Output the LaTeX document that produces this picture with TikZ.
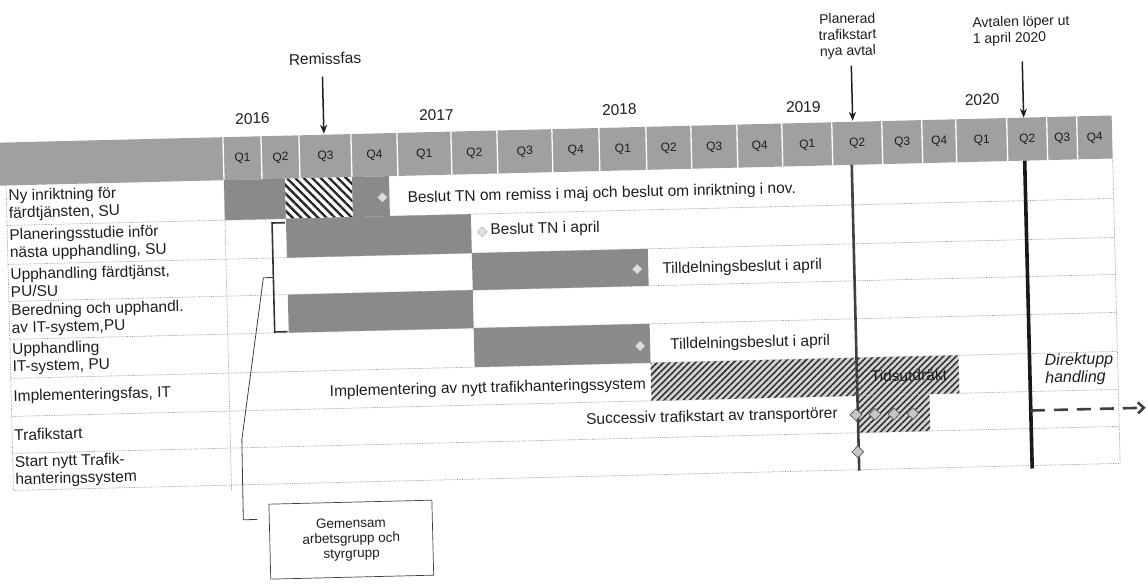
\documentclass[tikz,border=0pt]{standalone}
\usepackage{fontspec}
\setmainfont{Liberation Sans}
\usetikzlibrary{shapes.geometric,patterns.meta,arrows.meta}
\definecolor{hdr}{HTML}{A0A0A0}
\definecolor{barc}{HTML}{8A8A8A}
\definecolor{hatchbg}{HTML}{D4D4D4}
\definecolor{gridc}{HTML}{909090}
\definecolor{ink}{HTML}{1E1E1E}
\begin{document}
\begin{tikzpicture}[x=1pt,y=-1pt,
  every node/.style={text=ink},
  lbl/.style={anchor=west,align=left,inner sep=0pt,font=\fontsize{15.5}{17.5}\selectfont},
  txt/.style={inner sep=0pt,font=\fontsize{15.5}{16}\selectfont},
  qlab/.style={inner sep=0pt,font=\fontsize{12}{12}\selectfont},
  yr/.style={inner sep=0pt,font=\fontsize{15.5}{16}\selectfont},
  ann/.style={inner sep=0pt,font=\fontsize{14}{16}\selectfont},
  darkbar/.style={fill=barc},
  hatchA/.style={preaction={fill=white},pattern={Lines[angle=-45,distance=6pt,line width=2.4pt]},pattern color=black!85},
  hatchB/.style={preaction={fill=hatchbg},pattern={Lines[angle=45,distance=4.5pt,line width=1.6pt]},pattern color=black!80},
  ms/.style={diamond,minimum size=12pt,inner sep=0pt,fill=gray!45,draw=black!70,line width=0.6pt},
  msl/.style={diamond,minimum size=10pt,inner sep=0pt,fill=gray!25,draw=gray!60,line width=0.5pt},
  gridline/.style={draw=gridc,line width=0.7pt,densely dotted},
  arr/.style={draw=ink,line width=1.5pt,-{Stealth[length=9pt,width=7pt]}},
  conn/.style={draw=black!75,line width=0.8pt},
]
\useasboundingbox (0,0) rectangle (1148,587);
\begin{scope}[rotate around={1.4:(560,300)},transform shape]
% header band
\fill[hdr] (2,129) rectangle (1116,172);
\foreach \x in {227,265,303,355,401,455,501,556,603,650,695,741,786,836,886,926,960,1011,1051,1081}
  \draw[white,line width=1.3pt] (\x,129) -- (\x,172);
\foreach \a/\b/\q in {227/265/Q1,265/303/Q2,303/355/Q3,355/401/Q4,401/455/Q1,455/501/Q2,501/556/Q3,556/603/Q4,603/650/Q1,650/695/Q2,695/741/Q3,741/786/Q4,786/836/Q1,836/886/Q2,886/926/Q3,926/960/Q4,960/1011/Q1,1011/1051/Q2,1051/1081/Q3,1081/1116/Q4}
  \node[qlab] (q\a) at ({(\a+\b)/2},151) {\q};
% grid
\foreach \y in {212,251,288,326,365,403,440,477}
  \draw[gridline] (9,\y) -- (1116,\y);
\draw[gridline] (9,172) -- (9,477);
\draw[gridline] (227,172) -- (227,483);
\draw[gridline] (1116,172) -- (1116,477);
% bars
\fill[darkbar] (227,172) rectangle (288,212);
\path[hatchA] (288,172) rectangle (355,212);
\fill[darkbar] (355,172) rectangle (392,212);
\fill[darkbar] (288,212) rectangle (473,251);
\fill[darkbar] (473,251) rectangle (649,288);
\fill[darkbar] (288,288) rectangle (473,326);
\fill[darkbar] (473,326) rectangle (649,365);
\path[hatchB] (649,365) rectangle (957,403);
\path[hatchB] (855,403) rectangle (927,440);
% markers
\node[msl] (m1) at (385,193) {};
\node[msl] (m2) at (484,230) {};
\node[msl] (m3) at (638,271) {};
\node[msl] (m5) at (639,348) {};
% vertical milestone lines
\coordinate (pTop) at (855,172); \coordinate (pBot) at (855,478);
\draw[line width=2.6pt,black!75] (pTop) -- (pBot);
\coordinate (aTop) at (1028,172); \coordinate (aBot) at (1028,480);
\draw[line width=3.6pt,black!90] (aTop) -- (aBot);
% diamonds
\foreach \x [count=\i] in {853,872,891,910}
  \node[ms] (t\i) at (\x,422) {};
\node[ms] (s1) at (854,459) {};
% dashed arrow
\coordinate (dEnd) at (1143,422);
\draw[line width=2.6pt,black!75,dash pattern=on 14pt off 9pt,-{Straight Barb[length=6pt,width=11pt]}] (aTop |- dEnd) -- (dEnd);
% top annotations
\node[txt] (remiss) at (331,53) {Remissfas};
\coordinate (remTip) at (328,128);
\draw[arr,shorten <=12pt] (remiss.south -| remTip) -- (remTip);
\node[ann,align=center] (plan) at (854,43) {Planerad\\trafikstart\\nya avtal};
\coordinate (planTip) at (857,128);
\draw[arr,shorten <=7pt] (plan.south -| planTip) -- (planTip);
\node[ann,align=left,anchor=west] (avt) at (979,42) {Avtalen löper ut\\1 april 2020};
\coordinate (avtTip) at (1028,129);
\draw[arr,shorten <=16pt] (avt.south -| avtTip) -- (avtTip);
% years
\node[yr] (y16) at (257,111) {2016};
\node[yr] (y17) at (441,112) {2017};
\node[yr] (y18) at (624,111) {2018};
\node[yr] (y19) at (808,113) {2019};
\node[yr] (y20) at (987,110) {2020};
% row labels
\node[lbl] (l1) at (11,192) {Ny inriktning för\\färdtjänsten, SU};
\node[lbl] (l2) at (11,231.5) {Planeringsstudie inför\\nästa upphandling, SU};
\node[lbl] (l3) at (11,269.5) {Upphandling färdtjänst,\\PU/SU};
\node[lbl] (l4) at (11,307) {Beredning och upphandl.\\av IT-system,PU};
\node[lbl] (l5) at (11,345.5) {Upphandling\\IT-system, PU};
\node[lbl] (l6) at (11,384) {Implementeringsfas, IT};
\node[lbl] (l7) at (11,421.5) {Trafikstart};
\node[lbl] (l8) at (11,458.5) {Start nytt Trafik-\\hanteringssystem};
% inner texts
\node[txt,anchor=west] (b1) at (410,195) {Beslut TN om remiss i maj och beslut om inriktning i nov.};
\node[txt,anchor=west] (b2) at (492,229) {Beslut TN i april};
\node[txt,anchor=west] (b3) at (663,272) {Tilldelningsbeslut i april};
\node[txt,anchor=west] (b5) at (669,348) {Tilldelningsbeslut i april};
\node[txt,anchor=east] (b6) at (644,387) {Implementering av nytt trafikhanteringssystem};
\node[txt,anchor=east] (b7) at (835,421) {Successiv trafikstart av transportörer};
\node[txt] (b6b) at (907,384) {Tidsutdräkt};
\node[txt,anchor=west,align=left,font=\itshape\fontsize{16}{17.5}\selectfont] (dir) at (1043,382) {Direktupp\\handling};
% bracket, connector, box
\coordinate (brTop) at (287,216); \coordinate (brBot) at (287,325); \coordinate (brMid) at (274,270.5);
\draw[line width=1.6pt,black!80] (brTop) -- (274,216) -- (274,325) -- (brBot);
\node[draw=black!75,line width=0.7pt,minimum width=163pt,minimum height=75pt,align=center,inner sep=0pt,font=\fontsize{13.5}{15}\selectfont] (gem) at (345.5,534.5) {Gemensam\\arbetsgrupp och\\styrgrupp};
\coordinate (gemIn) at (252,512);
\draw[conn] (brMid) -- (264,270.5) -- (238.5,432) -- (238,512) -- (gemIn);
\end{scope}
\end{tikzpicture}
\end{document}
